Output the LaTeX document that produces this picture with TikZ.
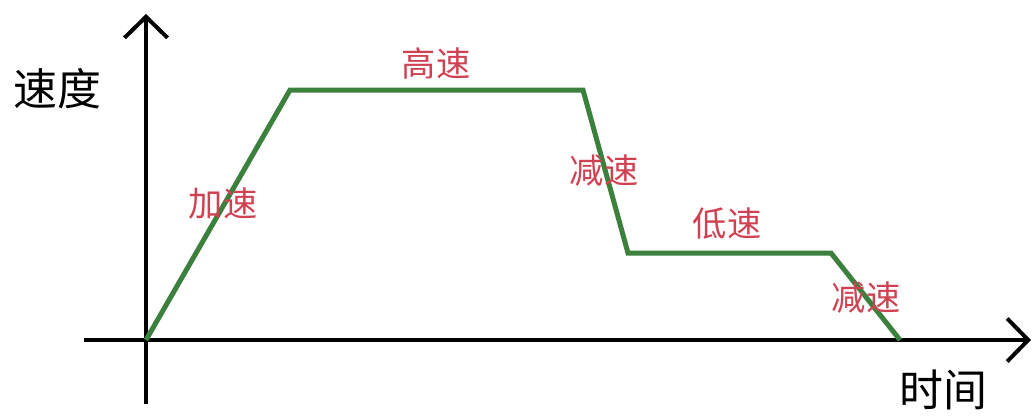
\documentclass[tikz,border=0pt]{standalone}
\usepackage{fontspec}
\newfontfamily\cjk{Noto Sans CJK SC}
\usetikzlibrary{arrows.meta}
\definecolor{curveGreen}{RGB}{60,128,62}
\definecolor{labelRed}{RGB}{208,66,82}

\begin{document}
\begin{tikzpicture}[x=0.02cm, y=-0.02cm,
	axis/.style={line width=0.08cm, -{Straight Barb[length=0.42cm, width=0.86cm, line width=0.08cm]}},
	curve/.style={line width=0.1cm, curveGreen, line join=miter},
	axisLabel/.style={font=\cjk\fontsize{25pt}{25pt}\selectfont, inner sep=0pt},
	phaseLabel/.style={font=\cjk\fontsize{19.5pt}{19.5pt}\selectfont, labelRed, inner sep=0pt}]

	\useasboundingbox (0,0) rectangle (1035,419);

	\def\Xzero{146};
	\def\Yzero{340};

	% Axes
	\coordinate (xStart) at (84,\Yzero);
	\coordinate (xEnd) at (1031,\Yzero);
	\coordinate (yStart) at (\Xzero,404);
	\coordinate (yEnd) at (\Xzero,14);
	\draw[axis] (xStart) -- (xEnd);
	\draw[axis] (yStart) -- (yEnd);

	\node[axisLabel] (speed) at (57,89) {速度};
	\node[axisLabel] (time) at (943,390) {时间};

	% Speed profile
	\coordinate (p0) at (\Xzero,\Yzero);
	\coordinate (p1) at (290,90);
	\coordinate (p2) at (583,90);
	\coordinate (p3) at (628,253);
	\coordinate (p4) at (831,253);
	\coordinate (p5) at (900,\Yzero);
	\draw[curve] (p0) -- (p1) -- (p2) -- (p3) -- (p4) -- (p5);

	% Phase labels
	\node[phaseLabel] (accel) at (223,204) {加速};
	\node[phaseLabel] (fast) at (436,63) {高速};
	\node[phaseLabel] (decelA) at (604,171) {减速};
	\node[phaseLabel] (slow) at (727,224) {低速};
	\node[phaseLabel] (decelB) at (866,298) {减速};

\end{tikzpicture}
\end{document}
